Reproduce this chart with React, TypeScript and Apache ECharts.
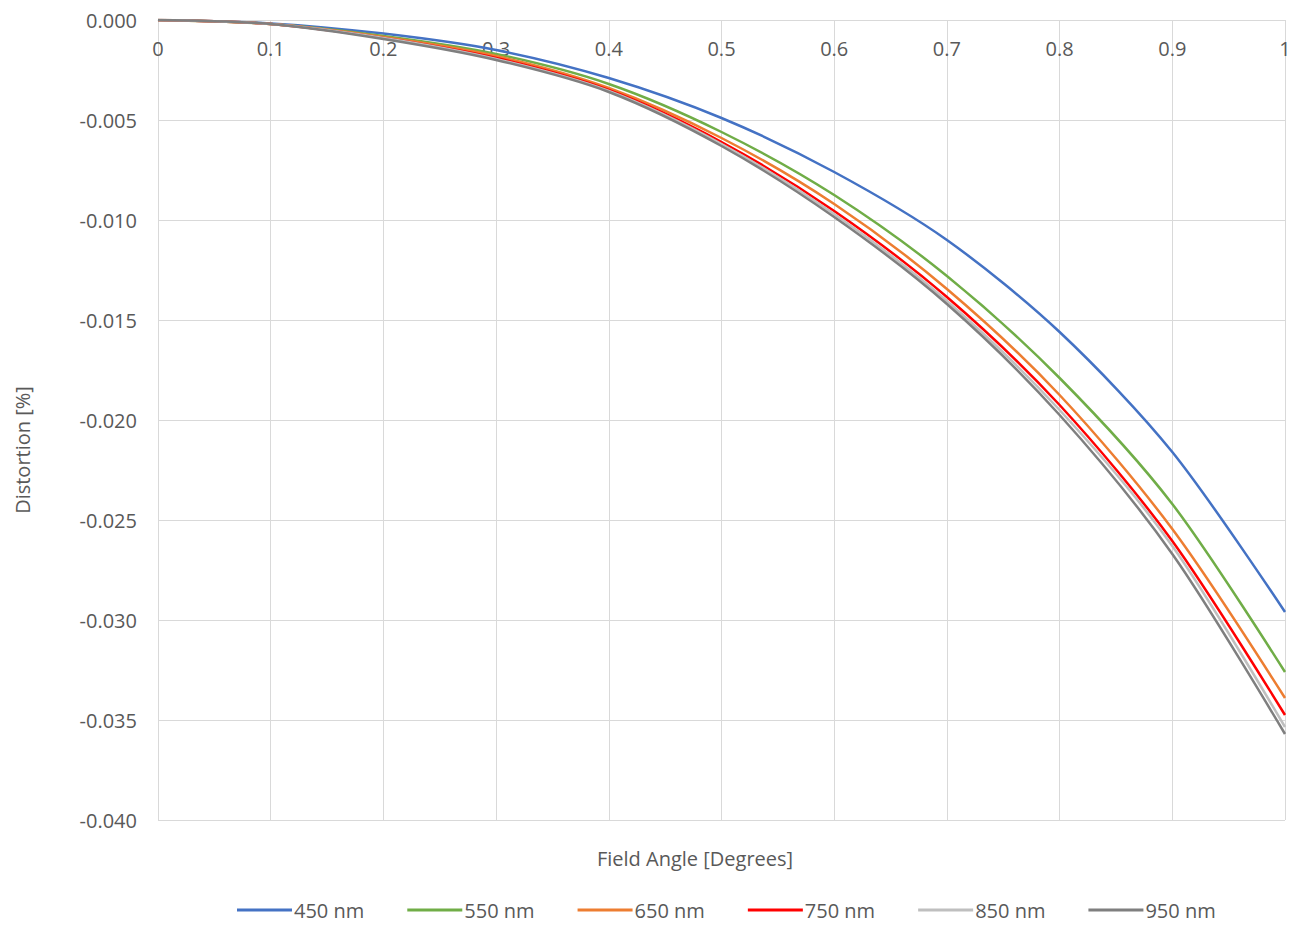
import React, { useEffect, useRef } from "react";
import * as echarts from "echarts";

const fieldAngles = [0, 0.1, 0.2, 0.3, 0.4, 0.5, 0.6, 0.7, 0.8, 0.9, 1.0];
const seriesNames = ["450 nm", "550 nm", "650 nm", "750 nm", "850 nm", "950 nm"];
const seriesColors = ["#4472C4", "#70AD47", "#ED7D31", "#FF0000", "#BFBFBF", "#7F7F7F"];
const d450 = [0, -0.00017, -0.00068, -0.0015, -0.0029, -0.0049, -0.0076, -0.0110, -0.0156, -0.0216, -0.0296];
const d550 = [0, -0.0002, -0.0008, -0.0017, -0.0032, -0.0056, -0.00875, -0.0128, -0.0179, -0.0242, -0.0326];
const d650 = [0, -0.0002, -0.00085, -0.0018, -0.0034, -0.0059, -0.0092, -0.01345, -0.01875, -0.02545, -0.0339];
const d750 = [0, -0.0002, -0.0009, -0.0019, -0.0035, -0.0061, -0.00955, -0.01385, -0.01925, -0.02605, -0.03475];
const d850 = [0, -0.0002, -0.0009, -0.00195, -0.00355, -0.0062, -0.0097, -0.01405, -0.0195, -0.0263, -0.03535];
const d950 = [0, -0.0002, -0.00095, -0.002, -0.0036, -0.0063, -0.00985, -0.0142, -0.01975, -0.0267, -0.0357];
const allData = [d450, d550, d650, d750, d850, d950];

const xTitle = "Field Angle [Degrees]";
const yTitle = "Distortion [%]";
const FONT = "'Open Sans', sans-serif";
const TEXT = "#595959";
const GRID = "#d9d9d9";

export default function App() {
  const ref = useRef<HTMLDivElement>(null);
  useEffect(() => {
    if (!ref.current) return;
    const chart = echarts.init(ref.current, undefined, { renderer: "svg" });
    chart.setOption({
      animation: false,
      backgroundColor: "#ffffff",
      textStyle: { fontFamily: FONT },
      grid: { left: 158, right: 17, top: 20, bottom: 107, containLabel: false },
      xAxis: {
        type: "value",
        min: 0,
        max: 1,
        interval: 0.1,
        position: "top",
        axisLine: { show: true, onZero: false, lineStyle: { color: GRID, width: 1 } },
        axisTick: { show: false },
        axisLabel: {
          inside: true,
          color: TEXT,
          fontSize: 20,
          fontFamily: FONT,
          margin: 18,
          formatter: (v: number) => String(Number(v.toFixed(1))),
        },
        splitLine: { show: true, lineStyle: { color: GRID, width: 1 } },
      },
      yAxis: {
        type: "value",
        min: -0.04,
        max: 0,
        interval: 0.005,
        axisLine: { show: false },
        axisTick: { show: false },
        axisLabel: {
          color: TEXT,
          fontSize: 20,
          fontFamily: FONT,
          margin: 21,
          formatter: (v: number) => {
            const s = v.toFixed(3);
            return s === "-0.000" ? "0.000" : s;
          },
        },
        splitLine: { show: true, lineStyle: { color: GRID, width: 1 } },
      },
      legend: {
        bottom: 2,
        left: 232,
        itemWidth: 55,
        itemHeight: 3,
        itemGap: 43,
        icon: "rect",
        textStyle: { color: TEXT, fontSize: 20, fontFamily: FONT, padding: [0, 0, 0, -3] },
        data: seriesNames,
      },
      graphic: [
        {
          type: "text",
          x: 695,
          y: 858,
          style: {
            text: xTitle,
            fill: TEXT,
            font: `20px ${FONT}`,
            align: "center",
            verticalAlign: "middle",
          },
        },
        {
          type: "text",
          x: 22,
          y: 450,
          rotation: Math.PI / 2,
          style: {
            text: yTitle,
            fill: TEXT,
            font: `20px ${FONT}`,
            align: "center",
            verticalAlign: "middle",
          },
        },
      ],
      series: seriesNames.map((name, i) => ({
        name,
        type: "line",
        smooth: 0.3,
        showSymbol: false,
        symbol: "none",
        color: seriesColors[i],
        lineStyle: { color: seriesColors[i], width: 2.5 },
        data: fieldAngles.map((x, j) => [x, allData[i][j]]),
      })),
    });
    return () => chart.dispose();
  }, []);
  return (
    <div
      ref={ref}
      style={{ position: "fixed", left: 0, top: 0, width: 1302, height: 927 }}
    />
  );
}
